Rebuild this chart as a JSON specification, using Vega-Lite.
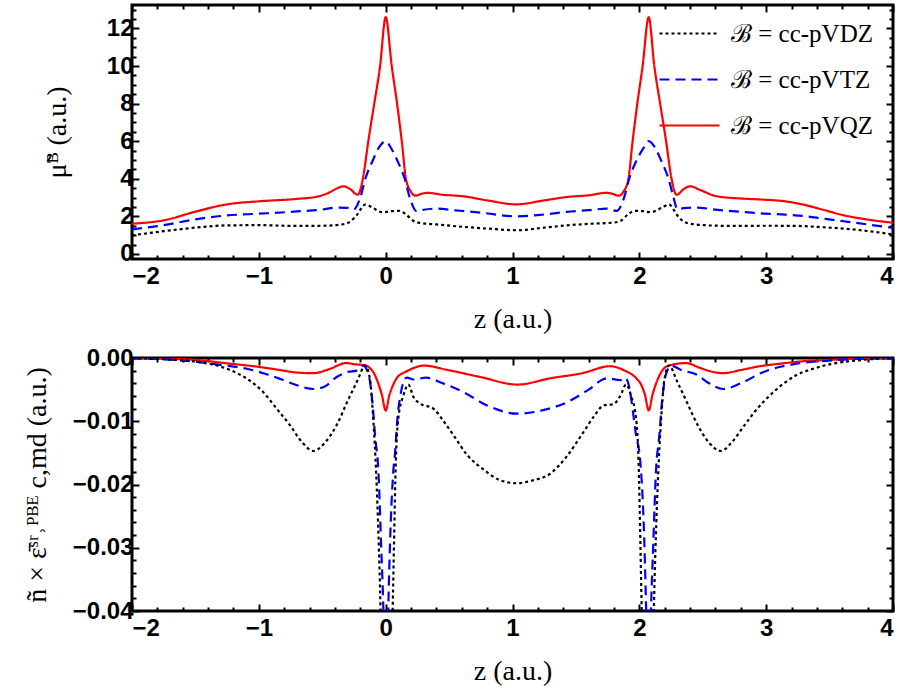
{
  "$schema": "https://vega.github.io/schema/vega-lite/v6.json",
  "background": "white",
  "padding": {"left": 21, "top": 0, "right": 5, "bottom": 5},
  "spacing": 9,
  "config": {
    "view": {"stroke": "black", "strokeWidth": 3},
    "axis": {
      "domain": false, "grid": false,
      "labelFont": "Liberation Sans", "labelFontWeight": "bold", "labelFontSize": 24, "labelColor": "black",
      "titleFont": "Liberation Serif", "titleFontWeight": "normal", "titleFontSize": 28, "titleColor": "black",
      "tickColor": "black", "tickWidth": 2
    }
  },
  "datasets": {
    "top": [
      {"b":"cc-pVQZ","z":-2,"v":1.61},{"b":"cc-pVQZ","z":-1.75,"v":1.79},{"b":"cc-pVQZ","z":-1.5,"v":2.25},{"b":"cc-pVQZ","z":-1.25,"v":2.64},{"b":"cc-pVQZ","z":-1.0,"v":2.8},{"b":"cc-pVQZ","z":-0.7,"v":2.93},{"b":"cc-pVQZ","z":-0.54,"v":3.05},{"b":"cc-pVQZ","z":-0.45,"v":3.25},{"b":"cc-pVQZ","z":-0.38,"v":3.5},{"b":"cc-pVQZ","z":-0.33,"v":3.6},{"b":"cc-pVQZ","z":-0.28,"v":3.45},{"b":"cc-pVQZ","z":-0.22,"v":3.15},{"b":"cc-pVQZ","z":-0.18,"v":4.0},{"b":"cc-pVQZ","z":-0.137,"v":6.0},{"b":"cc-pVQZ","z":-0.09,"v":8.0},{"b":"cc-pVQZ","z":-0.044,"v":10.0},{"b":"cc-pVQZ","z":0,"v":12.6},{"b":"cc-pVQZ","z":0.048,"v":10.0},{"b":"cc-pVQZ","z":0.09,"v":8.0},{"b":"cc-pVQZ","z":0.127,"v":6.0},{"b":"cc-pVQZ","z":0.16,"v":4.0},{"b":"cc-pVQZ","z":0.2,"v":3.3},{"b":"cc-pVQZ","z":0.235,"v":3.1},{"b":"cc-pVQZ","z":0.28,"v":3.2},{"b":"cc-pVQZ","z":0.33,"v":3.25},{"b":"cc-pVQZ","z":0.45,"v":3.15},{"b":"cc-pVQZ","z":0.61,"v":3.07},{"b":"cc-pVQZ","z":0.8,"v":2.85},{"b":"cc-pVQZ","z":1.03,"v":2.64},{"b":"cc-pVQZ","z":1.25,"v":2.85},{"b":"cc-pVQZ","z":1.43,"v":3.03},{"b":"cc-pVQZ","z":1.6,"v":3.12},{"b":"cc-pVQZ","z":1.74,"v":3.25},{"b":"cc-pVQZ","z":1.79,"v":3.2},{"b":"cc-pVQZ","z":1.838,"v":3.1},{"b":"cc-pVQZ","z":1.874,"v":3.3},{"b":"cc-pVQZ","z":1.914,"v":4.0},{"b":"cc-pVQZ","z":1.947,"v":6.0},{"b":"cc-pVQZ","z":1.984,"v":8.0},{"b":"cc-pVQZ","z":2.026,"v":10.0},{"b":"cc-pVQZ","z":2.074,"v":12.6},{"b":"cc-pVQZ","z":2.118,"v":10.0},{"b":"cc-pVQZ","z":2.164,"v":8.0},{"b":"cc-pVQZ","z":2.211,"v":6.0},{"b":"cc-pVQZ","z":2.254,"v":4.0},{"b":"cc-pVQZ","z":2.294,"v":3.15},{"b":"cc-pVQZ","z":2.35,"v":3.45},{"b":"cc-pVQZ","z":2.4,"v":3.6},{"b":"cc-pVQZ","z":2.48,"v":3.4},{"b":"cc-pVQZ","z":2.61,"v":3.07},{"b":"cc-pVQZ","z":2.8,"v":2.95},{"b":"cc-pVQZ","z":2.98,"v":2.89},{"b":"cc-pVQZ","z":3.15,"v":2.8},{"b":"cc-pVQZ","z":3.29,"v":2.63},{"b":"cc-pVQZ","z":3.45,"v":2.35},{"b":"cc-pVQZ","z":3.61,"v":2.06},{"b":"cc-pVQZ","z":3.8,"v":1.83},{"b":"cc-pVQZ","z":4.0,"v":1.66},
      {"b":"cc-pVTZ","z":-2,"v":1.31},{"b":"cc-pVTZ","z":-1.75,"v":1.53},{"b":"cc-pVTZ","z":-1.5,"v":1.84},{"b":"cc-pVTZ","z":-1.25,"v":2.05},{"b":"cc-pVTZ","z":-1.0,"v":2.14},{"b":"cc-pVTZ","z":-0.7,"v":2.26},{"b":"cc-pVTZ","z":-0.5,"v":2.36},{"b":"cc-pVTZ","z":-0.385,"v":2.47},{"b":"cc-pVTZ","z":-0.3,"v":2.45},{"b":"cc-pVTZ","z":-0.254,"v":2.36},{"b":"cc-pVTZ","z":-0.2,"v":3.0},{"b":"cc-pVTZ","z":-0.16,"v":4.0},{"b":"cc-pVTZ","z":-0.1,"v":5.0},{"b":"cc-pVTZ","z":-0.05,"v":5.7},{"b":"cc-pVTZ","z":0,"v":6.0},{"b":"cc-pVTZ","z":0.045,"v":5.6},{"b":"cc-pVTZ","z":0.09,"v":5.0},{"b":"cc-pVTZ","z":0.15,"v":4.0},{"b":"cc-pVTZ","z":0.19,"v":3.0},{"b":"cc-pVTZ","z":0.245,"v":2.27},{"b":"cc-pVTZ","z":0.3,"v":2.35},{"b":"cc-pVTZ","z":0.4,"v":2.41},{"b":"cc-pVTZ","z":0.55,"v":2.32},{"b":"cc-pVTZ","z":0.745,"v":2.2},{"b":"cc-pVTZ","z":1.034,"v":2.0},{"b":"cc-pVTZ","z":1.25,"v":2.1},{"b":"cc-pVTZ","z":1.43,"v":2.24},{"b":"cc-pVTZ","z":1.6,"v":2.33},{"b":"cc-pVTZ","z":1.744,"v":2.41},{"b":"cc-pVTZ","z":1.82,"v":2.29},{"b":"cc-pVTZ","z":1.88,"v":3.0},{"b":"cc-pVTZ","z":1.92,"v":4.0},{"b":"cc-pVTZ","z":1.98,"v":5.0},{"b":"cc-pVTZ","z":2.03,"v":5.6},{"b":"cc-pVTZ","z":2.074,"v":6.0},{"b":"cc-pVTZ","z":2.12,"v":5.7},{"b":"cc-pVTZ","z":2.17,"v":5.0},{"b":"cc-pVTZ","z":2.23,"v":4.0},{"b":"cc-pVTZ","z":2.27,"v":3.0},{"b":"cc-pVTZ","z":2.3,"v":2.38},{"b":"cc-pVTZ","z":2.35,"v":2.44},{"b":"cc-pVTZ","z":2.45,"v":2.47},{"b":"cc-pVTZ","z":2.6,"v":2.36},{"b":"cc-pVTZ","z":2.8,"v":2.24},{"b":"cc-pVTZ","z":2.98,"v":2.15},{"b":"cc-pVTZ","z":3.15,"v":2.09},{"b":"cc-pVTZ","z":3.29,"v":2.02},{"b":"cc-pVTZ","z":3.45,"v":1.88},{"b":"cc-pVTZ","z":3.61,"v":1.74},{"b":"cc-pVTZ","z":3.8,"v":1.57},{"b":"cc-pVTZ","z":4.0,"v":1.38},
      {"b":"cc-pVDZ","z":-2,"v":0.99},{"b":"cc-pVDZ","z":-1.75,"v":1.21},{"b":"cc-pVDZ","z":-1.5,"v":1.4},{"b":"cc-pVDZ","z":-1.25,"v":1.52},{"b":"cc-pVDZ","z":-1.0,"v":1.53},{"b":"cc-pVDZ","z":-0.7,"v":1.49},{"b":"cc-pVDZ","z":-0.5,"v":1.5},{"b":"cc-pVDZ","z":-0.333,"v":1.58},{"b":"cc-pVDZ","z":-0.28,"v":1.72},{"b":"cc-pVDZ","z":-0.23,"v":2.05},{"b":"cc-pVDZ","z":-0.16,"v":2.63},{"b":"cc-pVDZ","z":-0.1,"v":2.45},{"b":"cc-pVDZ","z":-0.03,"v":2.22},{"b":"cc-pVDZ","z":0,"v":2.23},{"b":"cc-pVDZ","z":0.05,"v":2.28},{"b":"cc-pVDZ","z":0.11,"v":2.29},{"b":"cc-pVDZ","z":0.16,"v":2.1},{"b":"cc-pVDZ","z":0.22,"v":1.75},{"b":"cc-pVDZ","z":0.27,"v":1.65},{"b":"cc-pVDZ","z":0.4,"v":1.57},{"b":"cc-pVDZ","z":0.613,"v":1.44},{"b":"cc-pVDZ","z":0.8,"v":1.35},{"b":"cc-pVDZ","z":1.034,"v":1.26},{"b":"cc-pVDZ","z":1.25,"v":1.4},{"b":"cc-pVDZ","z":1.43,"v":1.52},{"b":"cc-pVDZ","z":1.6,"v":1.6},{"b":"cc-pVDZ","z":1.8,"v":1.67},{"b":"cc-pVDZ","z":1.85,"v":1.75},{"b":"cc-pVDZ","z":1.91,"v":2.1},{"b":"cc-pVDZ","z":1.964,"v":2.29},{"b":"cc-pVDZ","z":2.024,"v":2.28},{"b":"cc-pVDZ","z":2.074,"v":2.23},{"b":"cc-pVDZ","z":2.104,"v":2.24},{"b":"cc-pVDZ","z":2.174,"v":2.45},{"b":"cc-pVDZ","z":2.234,"v":2.63},{"b":"cc-pVDZ","z":2.3,"v":2.05},{"b":"cc-pVDZ","z":2.35,"v":1.72},{"b":"cc-pVDZ","z":2.4,"v":1.61},{"b":"cc-pVDZ","z":2.55,"v":1.52},{"b":"cc-pVDZ","z":2.74,"v":1.49},{"b":"cc-pVDZ","z":3.0,"v":1.5},{"b":"cc-pVDZ","z":3.24,"v":1.49},{"b":"cc-pVDZ","z":3.45,"v":1.42},{"b":"cc-pVDZ","z":3.61,"v":1.35},{"b":"cc-pVDZ","z":3.8,"v":1.22},{"b":"cc-pVDZ","z":4.0,"v":1.04}
    ],
    "bot": [
      {"b":"cc-pVQZ","z":-2,"v":0},{"b":"cc-pVQZ","z":-1.75,"v":-0.0001},{"b":"cc-pVQZ","z":-1.5,"v":-0.0003},{"b":"cc-pVQZ","z":-1.227,"v":-0.0009},{"b":"cc-pVQZ","z":-1.0,"v":-0.0014},{"b":"cc-pVQZ","z":-0.833,"v":-0.0019},{"b":"cc-pVQZ","z":-0.7,"v":-0.0023},{"b":"cc-pVQZ","z":-0.57,"v":-0.0024},{"b":"cc-pVQZ","z":-0.45,"v":-0.0018},{"b":"cc-pVQZ","z":-0.31,"v":-0.0008},{"b":"cc-pVQZ","z":-0.24,"v":-0.001},{"b":"cc-pVQZ","z":-0.176,"v":-0.0011},{"b":"cc-pVQZ","z":-0.123,"v":-0.0016},{"b":"cc-pVQZ","z":-0.085,"v":-0.0027},{"b":"cc-pVQZ","z":-0.057,"v":-0.0041},{"b":"cc-pVQZ","z":-0.03,"v":-0.0058},{"b":"cc-pVQZ","z":0,"v":-0.0083},{"b":"cc-pVQZ","z":0.03,"v":-0.0058},{"b":"cc-pVQZ","z":0.06,"v":-0.0042},{"b":"cc-pVQZ","z":0.09,"v":-0.0031},{"b":"cc-pVQZ","z":0.166,"v":-0.0021},{"b":"cc-pVQZ","z":0.218,"v":-0.0016},{"b":"cc-pVQZ","z":0.3,"v":-0.0012},{"b":"cc-pVQZ","z":0.49,"v":-0.0019},{"b":"cc-pVQZ","z":0.745,"v":-0.003},{"b":"cc-pVQZ","z":1.04,"v":-0.0042},{"b":"cc-pVQZ","z":1.3,"v":-0.0032},{"b":"cc-pVQZ","z":1.55,"v":-0.0024},{"b":"cc-pVQZ","z":1.77,"v":-0.0013},{"b":"cc-pVQZ","z":1.875,"v":-0.0019},{"b":"cc-pVQZ","z":1.98,"v":-0.0033},{"b":"cc-pVQZ","z":2.014,"v":-0.0042},{"b":"cc-pVQZ","z":2.044,"v":-0.0058},{"b":"cc-pVQZ","z":2.074,"v":-0.0083},{"b":"cc-pVQZ","z":2.104,"v":-0.0058},{"b":"cc-pVQZ","z":2.131,"v":-0.0041},{"b":"cc-pVQZ","z":2.16,"v":-0.0027},{"b":"cc-pVQZ","z":2.197,"v":-0.0016},{"b":"cc-pVQZ","z":2.25,"v":-0.0011},{"b":"cc-pVQZ","z":2.37,"v":-0.0008},{"b":"cc-pVQZ","z":2.47,"v":-0.0015},{"b":"cc-pVQZ","z":2.56,"v":-0.0021},{"b":"cc-pVQZ","z":2.66,"v":-0.0024},{"b":"cc-pVQZ","z":2.8,"v":-0.0019},{"b":"cc-pVQZ","z":2.95,"v":-0.0013},{"b":"cc-pVQZ","z":3.11,"v":-0.0009},{"b":"cc-pVQZ","z":3.3,"v":-0.0005},{"b":"cc-pVQZ","z":3.5,"v":-0.0003},{"b":"cc-pVQZ","z":3.75,"v":-0.0001},{"b":"cc-pVQZ","z":4,"v":0},
      {"b":"cc-pVTZ","z":-2,"v":0},{"b":"cc-pVTZ","z":-1.75,"v":-0.0002},{"b":"cc-pVTZ","z":-1.49,"v":-0.0006},{"b":"cc-pVTZ","z":-1.3,"v":-0.0011},{"b":"cc-pVTZ","z":-1.095,"v":-0.0017},{"b":"cc-pVTZ","z":-0.95,"v":-0.0025},{"b":"cc-pVTZ","z":-0.833,"v":-0.0033},{"b":"cc-pVTZ","z":-0.7,"v":-0.0043},{"b":"cc-pVTZ","z":-0.57,"v":-0.0049},{"b":"cc-pVTZ","z":-0.48,"v":-0.0045},{"b":"cc-pVTZ","z":-0.386,"v":-0.003},{"b":"cc-pVTZ","z":-0.3,"v":-0.0022},{"b":"cc-pVTZ","z":-0.23,"v":-0.002},{"b":"cc-pVTZ","z":-0.176,"v":-0.0012},{"b":"cc-pVTZ","z":-0.15,"v":-0.0018},{"b":"cc-pVTZ","z":-0.123,"v":-0.0038},{"b":"cc-pVTZ","z":-0.1,"v":-0.008},{"b":"cc-pVTZ","z":-0.084,"v":-0.0122},{"b":"cc-pVTZ","z":-0.057,"v":-0.018},{"b":"cc-pVTZ","z":-0.035,"v":-0.03},{"b":"cc-pVTZ","z":-0.018,"v":-0.04},{"b":"cc-pVTZ","z":0,"v":-0.06},{"b":"cc-pVTZ","z":0.02,"v":-0.04},{"b":"cc-pVTZ","z":0.04,"v":-0.026},{"b":"cc-pVTZ","z":0.06,"v":-0.018},{"b":"cc-pVTZ","z":0.074,"v":-0.0149},{"b":"cc-pVTZ","z":0.095,"v":-0.009},{"b":"cc-pVTZ","z":0.114,"v":-0.0062},{"b":"cc-pVTZ","z":0.14,"v":-0.0038},{"b":"cc-pVTZ","z":0.166,"v":-0.0031},{"b":"cc-pVTZ","z":0.22,"v":-0.0034},{"b":"cc-pVTZ","z":0.32,"v":-0.0031},{"b":"cc-pVTZ","z":0.45,"v":-0.004},{"b":"cc-pVTZ","z":0.613,"v":-0.0054},{"b":"cc-pVTZ","z":0.8,"v":-0.0075},{"b":"cc-pVTZ","z":1.034,"v":-0.0088},{"b":"cc-pVTZ","z":1.25,"v":-0.0082},{"b":"cc-pVTZ","z":1.43,"v":-0.007},{"b":"cc-pVTZ","z":1.6,"v":-0.005},{"b":"cc-pVTZ","z":1.744,"v":-0.0032},{"b":"cc-pVTZ","z":1.85,"v":-0.0035},{"b":"cc-pVTZ","z":1.89,"v":-0.0031},{"b":"cc-pVTZ","z":1.91,"v":-0.0038},{"b":"cc-pVTZ","z":1.934,"v":-0.0062},{"b":"cc-pVTZ","z":1.953,"v":-0.009},{"b":"cc-pVTZ","z":1.974,"v":-0.0122},{"b":"cc-pVTZ","z":2.0,"v":-0.0149},{"b":"cc-pVTZ","z":2.014,"v":-0.018},{"b":"cc-pVTZ","z":2.034,"v":-0.026},{"b":"cc-pVTZ","z":2.054,"v":-0.04},{"b":"cc-pVTZ","z":2.074,"v":-0.06},{"b":"cc-pVTZ","z":2.092,"v":-0.04},{"b":"cc-pVTZ","z":2.109,"v":-0.03},{"b":"cc-pVTZ","z":2.131,"v":-0.018},{"b":"cc-pVTZ","z":2.158,"v":-0.0122},{"b":"cc-pVTZ","z":2.174,"v":-0.008},{"b":"cc-pVTZ","z":2.197,"v":-0.0038},{"b":"cc-pVTZ","z":2.224,"v":-0.0018},{"b":"cc-pVTZ","z":2.25,"v":-0.0012},{"b":"cc-pVTZ","z":2.33,"v":-0.0019},{"b":"cc-pVTZ","z":2.45,"v":-0.0026},{"b":"cc-pVTZ","z":2.55,"v":-0.004},{"b":"cc-pVTZ","z":2.66,"v":-0.0049},{"b":"cc-pVTZ","z":2.8,"v":-0.004},{"b":"cc-pVTZ","z":2.98,"v":-0.0022},{"b":"cc-pVTZ","z":3.24,"v":-0.0009},{"b":"cc-pVTZ","z":3.5,"v":-0.0004},{"b":"cc-pVTZ","z":3.75,"v":-0.0001},{"b":"cc-pVTZ","z":4,"v":0},
      {"b":"cc-pVDZ","z":-2,"v":0},{"b":"cc-pVDZ","z":-1.75,"v":-0.0002},{"b":"cc-pVDZ","z":-1.49,"v":-0.0006},{"b":"cc-pVDZ","z":-1.227,"v":-0.0019},{"b":"cc-pVDZ","z":-1.1,"v":-0.0032},{"b":"cc-pVDZ","z":-0.965,"v":-0.0054},{"b":"cc-pVDZ","z":-0.86,"v":-0.008},{"b":"cc-pVDZ","z":-0.755,"v":-0.0106},{"b":"cc-pVDZ","z":-0.66,"v":-0.0133},{"b":"cc-pVDZ","z":-0.57,"v":-0.0147},{"b":"cc-pVDZ","z":-0.48,"v":-0.0134},{"b":"cc-pVDZ","z":-0.386,"v":-0.0106},{"b":"cc-pVDZ","z":-0.3,"v":-0.0068},{"b":"cc-pVDZ","z":-0.228,"v":-0.0038},{"b":"cc-pVDZ","z":-0.16,"v":-0.0012},{"b":"cc-pVDZ","z":-0.123,"v":-0.0035},{"b":"cc-pVDZ","z":-0.1,"v":-0.009},{"b":"cc-pVDZ","z":-0.08,"v":-0.016},{"b":"cc-pVDZ","z":-0.06,"v":-0.026},{"b":"cc-pVDZ","z":-0.045,"v":-0.036},{"b":"cc-pVDZ","z":-0.035,"v":-0.045},{"b":"cc-pVDZ","z":0,"v":-0.1},{"b":"cc-pVDZ","z":0.045,"v":-0.048},{"b":"cc-pVDZ","z":0.055,"v":-0.04},{"b":"cc-pVDZ","z":0.065,"v":-0.03},{"b":"cc-pVDZ","z":0.08,"v":-0.0164},{"b":"cc-pVDZ","z":0.1,"v":-0.0095},{"b":"cc-pVDZ","z":0.14,"v":-0.0059},{"b":"cc-pVDZ","z":0.179,"v":-0.0042},{"b":"cc-pVDZ","z":0.22,"v":-0.0062},{"b":"cc-pVDZ","z":0.27,"v":-0.0072},{"b":"cc-pVDZ","z":0.376,"v":-0.008},{"b":"cc-pVDZ","z":0.45,"v":-0.0098},{"b":"cc-pVDZ","z":0.534,"v":-0.0122},{"b":"cc-pVDZ","z":0.65,"v":-0.0155},{"b":"cc-pVDZ","z":0.77,"v":-0.0176},{"b":"cc-pVDZ","z":0.9,"v":-0.0193},{"b":"cc-pVDZ","z":1.034,"v":-0.0198},{"b":"cc-pVDZ","z":1.15,"v":-0.0194},{"b":"cc-pVDZ","z":1.297,"v":-0.0183},{"b":"cc-pVDZ","z":1.43,"v":-0.0155},{"b":"cc-pVDZ","z":1.56,"v":-0.0117},{"b":"cc-pVDZ","z":1.65,"v":-0.009},{"b":"cc-pVDZ","z":1.717,"v":-0.0075},{"b":"cc-pVDZ","z":1.795,"v":-0.0073},{"b":"cc-pVDZ","z":1.85,"v":-0.006},{"b":"cc-pVDZ","z":1.895,"v":-0.0042},{"b":"cc-pVDZ","z":1.934,"v":-0.0059},{"b":"cc-pVDZ","z":1.974,"v":-0.0095},{"b":"cc-pVDZ","z":1.994,"v":-0.0164},{"b":"cc-pVDZ","z":2.009,"v":-0.03},{"b":"cc-pVDZ","z":2.019,"v":-0.04},{"b":"cc-pVDZ","z":2.029,"v":-0.048},{"b":"cc-pVDZ","z":2.074,"v":-0.1},{"b":"cc-pVDZ","z":2.109,"v":-0.045},{"b":"cc-pVDZ","z":2.119,"v":-0.036},{"b":"cc-pVDZ","z":2.134,"v":-0.026},{"b":"cc-pVDZ","z":2.154,"v":-0.016},{"b":"cc-pVDZ","z":2.174,"v":-0.009},{"b":"cc-pVDZ","z":2.197,"v":-0.0035},{"b":"cc-pVDZ","z":2.234,"v":-0.0012},{"b":"cc-pVDZ","z":2.3,"v":-0.0038},{"b":"cc-pVDZ","z":2.375,"v":-0.007},{"b":"cc-pVDZ","z":2.46,"v":-0.0106},{"b":"cc-pVDZ","z":2.55,"v":-0.0134},{"b":"cc-pVDZ","z":2.644,"v":-0.0147},{"b":"cc-pVDZ","z":2.73,"v":-0.0133},{"b":"cc-pVDZ","z":2.83,"v":-0.0106},{"b":"cc-pVDZ","z":2.93,"v":-0.008},{"b":"cc-pVDZ","z":3.03,"v":-0.0059},{"b":"cc-pVDZ","z":3.14,"v":-0.004},{"b":"cc-pVDZ","z":3.24,"v":-0.0027},{"b":"cc-pVDZ","z":3.37,"v":-0.0017},{"b":"cc-pVDZ","z":3.5,"v":-0.001},{"b":"cc-pVDZ","z":3.76,"v":-0.0003},{"b":"cc-pVDZ","z":4,"v":0}
    ]
  },
  "resolve": {"scale": {"color": "independent", "strokeDash": "independent"}},
  "vconcat": [
    {
      "width": 761, "height": 254,
      "data": {"name": "top"},
      "resolve": {"axis": {"x": "independent", "y": "independent"}},
      "layer": [
        {
          "mark": {"type": "line", "strokeWidth": 2.2, "clip": true, "interpolate": "monotone"},
          "encoding": {
            "x": {"field": "z", "type": "quantitative", "scale": {"domain": [-2, 4], "nice": false, "zero": false},
                  "axis": {"orient": "bottom", "values": [-2,-1,0,1,2,3,4], "tickSize": -7, "labelPadding": 12, "title": "z (a.u.)", "titlePadding": 17}},
            "y": {"field": "v", "type": "quantitative", "scale": {"domain": [-0.27, 13.25], "nice": false, "zero": false},
                  "axis": {"orient": "left", "values": [0,2,4,6,8,10,12], "tickSize": -7, "labelPadding": 6, "title": "μ̃ᴮ (a.u.)", "titlePadding": 35}},
            "color": {"field": "b", "type": "nominal", "sort": ["cc-pVDZ","cc-pVTZ","cc-pVQZ"],
                      "scale": {"domain": ["cc-pVDZ","cc-pVTZ","cc-pVQZ"], "range": ["#000000","#0000ff","#ff0000"]},
                      "legend": {"orient": "none", "legendX": 526, "legendY": -3, "title": null, "labelFont": "Liberation Serif", "labelFontSize": 25, "labelColor": "black", "labelExpr": "'ℬ = ' + datum.label", "symbolType": "stroke", "symbolSize": 3600, "symbolStrokeWidth": 2.2, "labelOffset": 10, "rowPadding": 1}},
            "strokeDash": {"field": "b", "type": "nominal", "sort": ["cc-pVDZ","cc-pVTZ","cc-pVQZ"],
                      "scale": {"domain": ["cc-pVDZ","cc-pVTZ","cc-pVQZ"], "range": [[3,3],[10,6],[1,0]]},
                      "legend": {"orient": "none", "legendX": 526, "legendY": -3, "title": null, "labelFont": "Liberation Serif", "labelFontSize": 25, "labelColor": "black", "labelExpr": "'ℬ = ' + datum.label", "symbolType": "stroke", "symbolSize": 3600, "symbolStrokeWidth": 2.2, "labelOffset": 10, "rowPadding": 1}}
          }
        },
        {
          "mark": {"type": "point", "opacity": 0, "size": 0},
          "encoding": {
            "x": {"field": "z", "type": "quantitative", "axis": {"orient": "top", "values": [-2,-1,0,1,2,3,4], "tickSize": -7, "labels": false, "title": null}},
            "y": {"field": "v", "type": "quantitative", "axis": {"orient": "right", "values": [0,2,4,6,8,10,12], "tickSize": -7, "labels": false, "title": null}}
          }
        },
        {
          "mark": {"type": "point", "opacity": 0, "size": 0},
          "encoding": {
            "x": {"field": "z", "type": "quantitative", "axis": {"orient": "bottom", "values": [-1.8,-1.6,-1.4,-1.2,-0.8,-0.6,-0.4,-0.2,0.2,0.4,0.6,0.8,1.2,1.4,1.6,1.8,2.2,2.4,2.6,2.8,3.2,3.4,3.6,3.8], "tickSize": -4, "labels": false, "title": null}},
            "y": {"field": "v", "type": "quantitative", "axis": {"orient": "left", "values": [0.5,1,1.5,2.5,3,3.5,4.5,5,5.5,6.5,7,7.5,8.5,9,9.5,10.5,11,11.5,12.5,13], "tickSize": -4, "labels": false, "title": null}}
          }
        },
        {
          "mark": {"type": "point", "opacity": 0, "size": 0},
          "encoding": {
            "x": {"field": "z", "type": "quantitative", "axis": {"orient": "top", "values": [-1.8,-1.6,-1.4,-1.2,-0.8,-0.6,-0.4,-0.2,0.2,0.4,0.6,0.8,1.2,1.4,1.6,1.8,2.2,2.4,2.6,2.8,3.2,3.4,3.6,3.8], "tickSize": -4, "labels": false, "title": null}},
            "y": {"field": "v", "type": "quantitative", "axis": {"orient": "right", "values": [0.5,1,1.5,2.5,3,3.5,4.5,5,5.5,6.5,7,7.5,8.5,9,9.5,10.5,11,11.5,12.5,13], "tickSize": -4, "labels": false, "title": null}}
          }
        }
      ]
    },
    {
      "width": 761, "height": 253,
      "data": {"name": "bot"},
      "resolve": {"axis": {"x": "independent", "y": "independent"}},
      "layer": [
        {
          "mark": {"type": "line", "strokeWidth": 2.2, "clip": true, "interpolate": "monotone"},
          "encoding": {
            "x": {"field": "z", "type": "quantitative", "scale": {"domain": [-2, 4], "nice": false, "zero": false},
                  "axis": {"orient": "bottom", "values": [-2,-1,0,1,2,3,4], "tickSize": -7, "labelPadding": 12, "title": "z (a.u.)", "titlePadding": 17}},
            "y": {"field": "v", "type": "quantitative", "scale": {"domain": [-0.04, 0], "nice": false, "zero": false},
                  "axis": {"orient": "left", "values": [0,-0.01,-0.02,-0.03,-0.04], "format": ".2f", "tickSize": -7, "labelPadding": 6, "title": "ñ × ε̄ˢʳ˒ᴾᴮᴱ c,md (a.u.)", "titlePadding": 21}},
            "color": {"field": "b", "type": "nominal",
                      "scale": {"domain": ["cc-pVDZ","cc-pVTZ","cc-pVQZ"], "range": ["#000000","#0000ff","#ff0000"]}, "legend": null},
            "strokeDash": {"field": "b", "type": "nominal",
                      "scale": {"domain": ["cc-pVDZ","cc-pVTZ","cc-pVQZ"], "range": [[3,3],[10,6],[1,0]]}, "legend": null}
          }
        },
        {
          "mark": {"type": "point", "opacity": 0, "size": 0},
          "encoding": {
            "x": {"field": "z", "type": "quantitative", "axis": {"orient": "top", "values": [-2,-1,0,1,2,3,4], "tickSize": -7, "labels": false, "title": null}},
            "y": {"field": "v", "type": "quantitative", "axis": {"orient": "right", "values": [0,-0.01,-0.02,-0.03,-0.04], "tickSize": -7, "labels": false, "title": null}}
          }
        },
        {
          "mark": {"type": "point", "opacity": 0, "size": 0},
          "encoding": {
            "x": {"field": "z", "type": "quantitative", "axis": {"orient": "bottom", "values": [-1.8,-1.6,-1.4,-1.2,-0.8,-0.6,-0.4,-0.2,0.2,0.4,0.6,0.8,1.2,1.4,1.6,1.8,2.2,2.4,2.6,2.8,3.2,3.4,3.6,3.8], "tickSize": -4, "labels": false, "title": null}},
            "y": {"field": "v", "type": "quantitative", "axis": {"orient": "left", "values": [-0.002,-0.004,-0.006,-0.008,-0.012,-0.014,-0.016,-0.018,-0.022,-0.024,-0.026,-0.028,-0.032,-0.034,-0.036,-0.038], "tickSize": -4, "labels": false, "title": null}}
          }
        },
        {
          "mark": {"type": "point", "opacity": 0, "size": 0},
          "encoding": {
            "x": {"field": "z", "type": "quantitative", "axis": {"orient": "top", "values": [-1.8,-1.6,-1.4,-1.2,-0.8,-0.6,-0.4,-0.2,0.2,0.4,0.6,0.8,1.2,1.4,1.6,1.8,2.2,2.4,2.6,2.8,3.2,3.4,3.6,3.8], "tickSize": -4, "labels": false, "title": null}},
            "y": {"field": "v", "type": "quantitative", "axis": {"orient": "right", "values": [-0.002,-0.004,-0.006,-0.008,-0.012,-0.014,-0.016,-0.018,-0.022,-0.024,-0.026,-0.028,-0.032,-0.034,-0.036,-0.038], "tickSize": -4, "labels": false, "title": null}}
          }
        }
      ]
    }
  ]
}
